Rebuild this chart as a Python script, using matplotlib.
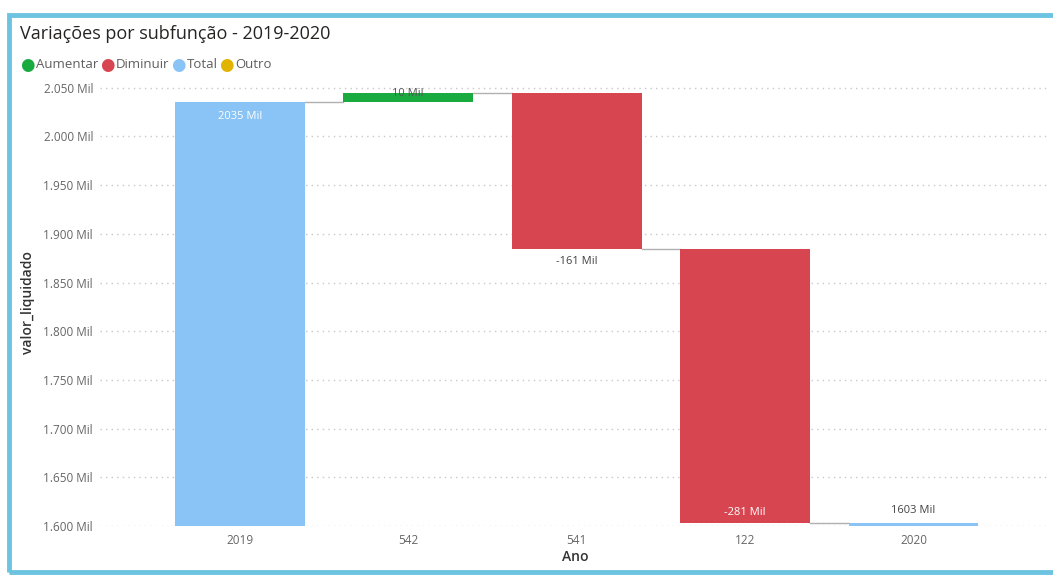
import numpy as np
import matplotlib.pyplot as plt
from matplotlib.patches import Rectangle

# Dados da cascata (valores em Mil)
categorias = ['2019', '542', '541', '122', '2020']
variacoes = [2035, 10, -161, -281, 1603]
tipos = ['Total', 'Aumentar', 'Diminuir', 'Diminuir', 'Total']
legenda = ['Aumentar', 'Diminuir', 'Total', 'Outro']
yticks = [1600, 1650, 1700, 1750, 1800, 1850, 1900, 1950, 2000, 2050]

cores = {'Aumentar': '#1aab40', 'Diminuir': '#d64550',
         'Total': '#8ac3f5', 'Outro': '#e0b400'}

plt.rcParams['font.family'] = ['Open Sans', 'DejaVu Sans']

fig = plt.figure(figsize=(10.53, 5.76), dpi=100)
W, H = 1053, 576

# moldura azul do visual
fig.patches.append(Rectangle((9 / W, 4 / H), 1.2, 1 - 19 / H, transform=fig.transFigure,
                             fill=False, edgecolor='#6cc4e0', linewidth=3.5, zorder=0))

ax = fig.add_axes([100 / W, 1 - 526 / H, 950 / W, 446 / H])

# calcula base e topo de cada barra
bases, alturas = [], []
acum = 0
for v, t in zip(variacoes, tipos):
    if t == 'Total':
        bases.append(0)
        alturas.append(v)
        acum = v
    else:
        bases.append(acum)
        alturas.append(v)
        acum += v

x = np.arange(len(categorias))
largura = 0.77
ymin = 1600
for i in range(len(categorias)):
    b, h = bases[i], alturas[i]
    lo, hi = (b, b + h) if h >= 0 else (b + h, b)
    lo = max(lo, ymin)
    ax.bar(x[i], hi - lo, bottom=lo, width=largura, color=cores[tipos[i]], zorder=3)

# linhas de ligação entre barras
for i in range(len(categorias) - 1):
    nivel = bases[i] + alturas[i]
    ax.plot([x[i] + largura / 2, x[i + 1] - largura / 2], [nivel, nivel],
            color='#b0b0b0', linewidth=1, zorder=2)

# rótulos de dados
ax.text(x[0], variacoes[0] - 14, f'{variacoes[0]} Mil', ha='center', va='center',
        color='white', fontsize=8)
ax.text(x[1], bases[1] + alturas[1] - 1, f'{variacoes[1]} Mil', ha='center', va='center',
        color='#555555', fontsize=8, zorder=4)
ax.text(x[2], bases[2] + alturas[2] - 12, f'{variacoes[2]} Mil', ha='center', va='center',
        color='#444444', fontsize=8)
ax.text(x[3], ymin + 14, f'{variacoes[3]} Mil', ha='center', va='center',
        color='white', fontsize=8)
ax.text(x[4], variacoes[4] + 13, f'{variacoes[4]} Mil', ha='center', va='center',
        color='#444444', fontsize=8)

ax.set_xlim(-0.83, 4.81)
ax.set_ylim(ymin, 2058)
ax.set_xticks(x)
ax.set_xticklabels(categorias)
ax.set_yticks(yticks)
ax.set_yticklabels([f'{v // 1000}.{v % 1000:03d} Mil' for v in yticks])
ax.tick_params(length=0, labelsize=8.5, colors='#666666', pad=6)
ax.tick_params(axis='y', pad=5)
for s in ax.spines.values():
    s.set_visible(False)
ax.grid(axis='y', linestyle=(0, (1, 3)), color='#c8c8c8', linewidth=1, zorder=0)

ax.set_xlabel('Ano', fontsize=10, color='#333333', fontweight='semibold', labelpad=2)
ax.set_ylabel('valor_liquidado', fontsize=10, color='#333333', fontweight='semibold', labelpad=6)

fig.text(20 / W, 1 - 34 / H, 'Variações por subfunção - 2019-2020', fontsize=13,
         color='#252423', va='center', ha='left')

# legenda
fig.canvas.draw()
rend = fig.canvas.get_renderer()
xpos = 20
for nome in legenda:
    m = fig.text(xpos / W, 1 - 65 / H, '\u25CF', color=cores[nome], fontsize=12,
                 va='center', ha='left', family='DejaVu Sans')
    xpos = m.get_window_extent(rend).x1 + 1
    t = fig.text(xpos / W, 1 - 65 / H, nome, color='#605e5c', fontsize=9.5,
                 va='center', ha='left')
    xpos = t.get_window_extent(rend).x1 + 2

fig.savefig('out.png', dpi=100)
